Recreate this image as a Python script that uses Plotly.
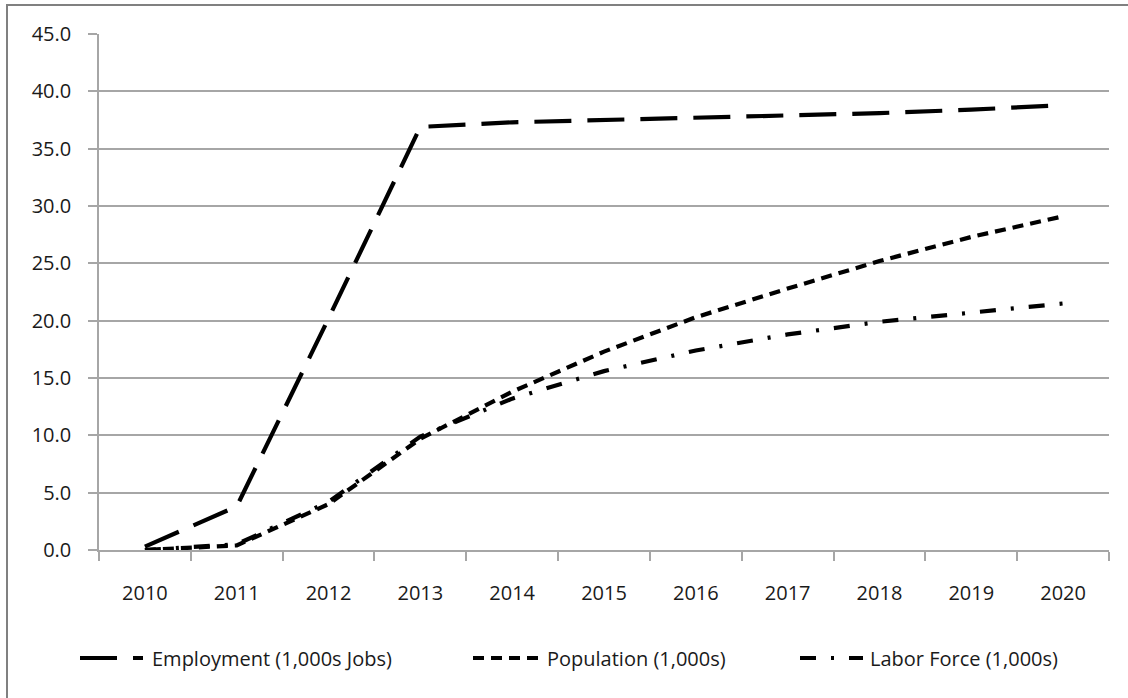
import plotly.graph_objects as go

# Category labels and series values (thousands)
years = [str(y) for y in range(2010, 2021)]
employment = [0.3, 3.8, 20.2, 36.9, 37.3, 37.5, 37.7, 37.9, 38.1, 38.4, 38.8]
population = [0.0, 0.4, 4.0, 9.7, 13.8, 17.3, 20.3, 22.8, 25.2, 27.3, 29.1]
labor_force = [0.0, 0.5, 4.2, 9.9, 13.2, 15.6, 17.4, 18.8, 19.9, 20.7, 21.5]
series_names = ["Employment (1,000s Jobs)", "Population (1,000s)", "Labor Force (1,000s)"]
y_ticks = [0, 5, 10, 15, 20, 25, 30, 35, 40, 45]

W, H = 1128, 698
ML, MR, MT, MB = 99, 19, 34, 148
PW, PH = W - ML - MR, H - MT - MB

FONT = "Open Sans"
FONT_SIZE = 20
TEXT_COLOR = "#1a1a1a"
GRID = "#a6a6a6"

styles = [
    dict(dash="37px,16px", width=4.2),
    dict(dash="11px,7px", width=4.2),
    dict(dash="16px,15px,3px,15px", width=4.2),
]
values = [employment, population, labor_force]

fig = go.Figure()
for name, vals, st in zip(series_names, values, styles):
    fig.add_trace(go.Scatter(
        x=years, y=vals, name=name, mode="lines",
        line=dict(color="black", width=st["width"], dash=st["dash"]),
        showlegend=False,
    ))


def px_x(px):
    return (px - ML) / PW


def px_y(py):
    return (MT + PH - py) / PH


shapes = []
annotations = []

# outer chart frame
shapes.append(dict(type="rect", xref="paper", yref="paper",
                   x0=px_x(7), x1=px_x(W + 20), y0=px_y(H + 20), y1=px_y(5),
                   line=dict(color="#808080", width=2), fillcolor="rgba(0,0,0,0)",
                   layer="below"))

# legend row
legend_items = [(80, 143, 150), (473, 540, 545), (800, 863, 868)]
legend_y = 658
for (x0, x1, tx), name, st in zip(legend_items, series_names, styles):
    shapes.append(dict(type="line", xref="paper", yref="paper",
                       x0=px_x(x0), x1=px_x(x1), y0=px_y(legend_y), y1=px_y(legend_y),
                       line=dict(color="black", width=st["width"], dash=st["dash"])))
    annotations.append(dict(xref="paper", yref="paper", x=px_x(tx), y=px_y(legend_y),
                            text=name, showarrow=False, xanchor="left", yanchor="middle",
                            font=dict(family=FONT, size=FONT_SIZE, color=TEXT_COLOR)))

fig.update_layout(
    width=W, height=H,
    margin=dict(l=ML, r=MR, t=MT, b=MB, pad=0),
    paper_bgcolor="white", plot_bgcolor="white",
    shapes=shapes, annotations=annotations,
    font=dict(family=FONT, size=FONT_SIZE, color=TEXT_COLOR),
    xaxis=dict(
        type="category", range=[-0.5, 10.5],
        showgrid=False, showline=True, linecolor=GRID, linewidth=1.5,
        ticks="outside", tickson="boundaries", ticklen=9, tickcolor=GRID, tickwidth=1.5,
        tickfont=dict(family=FONT, size=FONT_SIZE, color=TEXT_COLOR),
        ticklabelstandoff=24,
    ),
    yaxis=dict(
        range=[0, 45], tickvals=y_ticks, tickformat=".1f",
        showgrid=True, gridcolor=GRID, gridwidth=1.5,
        showline=True, linecolor=GRID, linewidth=1.5,
        ticks="outside", ticklen=9, tickcolor=GRID, tickwidth=1.5,
        tickfont=dict(family=FONT, size=FONT_SIZE, color=TEXT_COLOR),
        ticklabelstandoff=13, zeroline=False,
    ),
)

fig.write_html("out.html")
